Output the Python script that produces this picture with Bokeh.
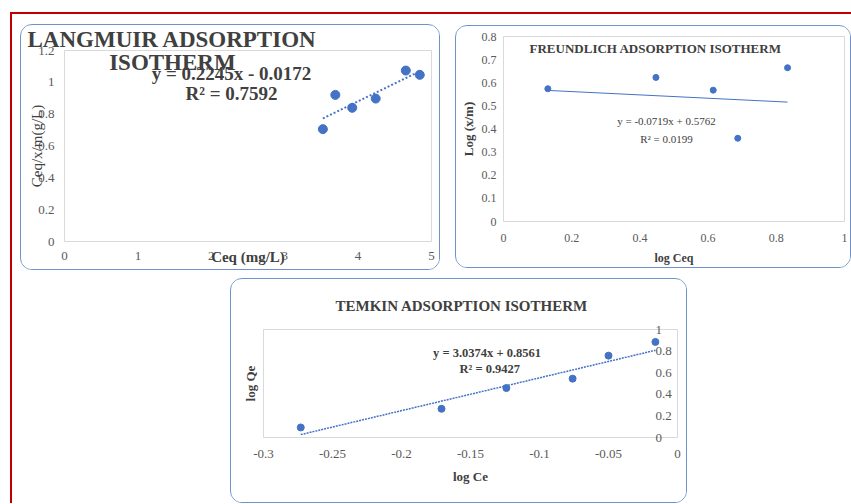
from bokeh.plotting import figure
from bokeh.models import Label, LinearAxis, FixedTicker, CustomJSTickFormatter
from bokeh.layouts import column, row
from bokeh.embed import file_html
from bokeh.resources import INLINE

# ---------------- data ----------------
lang_x = [3.52, 3.69, 3.92, 4.24, 4.65, 4.84]
lang_y = [0.706, 0.921, 0.840, 0.898, 1.074, 1.047]
lang_fit = (0.2245, -0.0172)
lang_xticks = [0, 1, 2, 3, 4, 5]
lang_yticks = [0, 0.2, 0.4, 0.6, 0.8, 1.0, 1.2]

fr_x = [0.130, 0.447, 0.615, 0.687, 0.833]
fr_y = [0.574, 0.623, 0.568, 0.360, 0.665]
fr_fit = (-0.0719, 0.5762)
fr_xticks = [0, 0.2, 0.4, 0.6, 0.8, 1.0]
fr_yticks = [0, 0.1, 0.2, 0.3, 0.4, 0.5, 0.6, 0.7, 0.8]

tk_x = [-0.273, -0.171, -0.124, -0.076, -0.050, -0.016]
tk_y = [0.093, 0.266, 0.458, 0.545, 0.758, 0.885]
tk_fit = (3.0374, 0.8561)
tk_xticks = [-0.3, -0.25, -0.2, -0.15, -0.1, -0.05, 0]
tk_yticks = [0, 0.2, 0.4, 0.6, 0.8, 1.0]

FONT = "Liberation Serif"
BLUE = "#4472C4"
TICKC = "#595959"
TXT = "#404040"
FMT = "return String(parseFloat(tick.toFixed(4)));"
PANEL = {"border": "1.5px solid #6f93c8", "border-radius": "12px", "overflow": "hidden"}


def base_fig(w, h, xr, yr, ml, mr, mt, mb, **kw):
    p = figure(width=w, height=h, x_range=xr, y_range=yr, output_backend="svg",
               toolbar_location=None, min_border_left=ml, min_border_right=mr,
               min_border_top=mt, min_border_bottom=mb, **kw)
    p.outline_line_color = "#d9d9d9"
    p.xgrid.visible = False
    p.ygrid.visible = False
    p.styles = dict(PANEL)
    return p


def style_axis(ax, ticks, size, standoff, label, lsize, lstandoff, bold=True):
    ax.ticker = FixedTicker(ticks=ticks)
    ax.formatter = CustomJSTickFormatter(code=FMT)
    ax.major_tick_in = 0
    ax.major_tick_out = 0
    ax.minor_tick_in = 0
    ax.minor_tick_out = 0
    ax.major_tick_line_color = None
    ax.minor_tick_line_color = None
    ax.axis_line_color = None
    ax.major_label_text_font = FONT
    ax.major_label_text_font_size = f"{size}px"
    ax.major_label_text_color = TICKC
    ax.major_label_standoff = standoff
    ax.axis_label = label
    ax.axis_label_text_font = FONT
    ax.axis_label_text_font_size = f"{lsize}px"
    ax.axis_label_text_font_style = "bold" if bold else "normal"
    ax.axis_label_text_color = TXT
    ax.axis_label_standoff = lstandoff


def label(p, x, y, text, size, bold=True, color=TXT):
    p.add_layout(Label(x=x, y=y, text=text, text_font=FONT,
                       text_font_size=f"{size}px",
                       text_font_style="bold" if bold else "normal", text_color=color,
                       text_align="center", text_baseline="middle"))


def style_title(t, text, size, align, offset, standoff):
    t.text = text
    t.text_font = FONT
    t.text_font_size = f"{size}px"
    t.text_font_style = "bold"
    t.text_color = TXT
    t.align = align
    t.offset = offset
    t.standoff = standoff


def trend(p, xs, fit, dash, width):
    x0, x1 = min(xs), max(xs)
    p.line([x0, x1], [fit[0] * x0 + fit[1], fit[0] * x1 + fit[1]],
           line_color=BLUE, line_width=width, line_dash=dash)


# ---------------- Langmuir ----------------
p1 = base_fig(420, 246, (0, 5), (0, 1.2), 43, 10, 25, 30)
style_axis(p1.xaxis[0], lang_xticks, 13, 10, "Ceq (mg/L)", 15, -14)
style_axis(p1.yaxis[0], lang_yticks, 13, 10, "Ceq/x/m(g/L)", 15, -10, bold=False)
style_title(p1.title, "LANGMUIR ADSORPTION", 23, "left", -37, -3)
trend(p1, lang_x, lang_fit, "2 2", 2)
p1.scatter(lang_x, lang_y, size=9, fill_color=BLUE, line_color=BLUE)
label(p1, 1.47, 1.124, "ISOTHERM", 23)
label(p1, 2.275, 1.055, "y = 0.2245x - 0.0172", 19)
label(p1, 2.275, 0.929, "R² = 0.7592", 19)
p1.margin = (10, 0, 0, 8)

# ---------------- Freundlich ----------------
p2 = base_fig(396, 243, (0, 1), (0, 0.8), 47, 8, 10, 48, title_location=None)
style_axis(p2.xaxis[0], fr_xticks, 12, 12, "log Ceq", 12, 6)
style_axis(p2.yaxis[0], fr_yticks, 12, 7, "Log (x/m)", 13, 3)
trend(p2, fr_x, fr_fit, "solid", 1)
p2.scatter(fr_x, fr_y, size=6, fill_color=BLUE, line_color=BLUE)
label(p2, 0.446, 0.749, "FREUNDLICH ADSORPTION ISOTHERM", 13)
label(p2, 0.478, 0.435, "y = -0.0719x + 0.5762", 11, bold=False)
label(p2, 0.478, 0.355, "R² = 0.0199", 11, bold=False)
p2.margin = (11, 0, 0, 15)

# ---------------- Temkin ----------------
p3 = base_fig(457, 225, (-0.3, 0), (0, 1), 32, 11, 50, 67)
style_axis(p3.xaxis[0], tk_xticks, 13, 12, "log Ce", 13, 8)
style_axis(p3.yaxis[0], [], 13, 5, "log Qe", 13, 6)
style_title(p3.title, "TEMKIN ADSORPTION ISOTHERM", 15, "left", 72, 32)
ry = LinearAxis()
style_axis(ry, tk_yticks, 13, -22, "", 13, 0)
ry.axis_line_color = "#d9d9d9"
p3.add_layout(ry, "right")
trend(p3, tk_x, tk_fit, "2 1", 1.5)
p3.scatter(tk_x, tk_y, size=7, fill_color=BLUE, line_color=BLUE)
label(p3, -0.138, 0.787, "y = 3.0374x + 0.8561", 12.5)
label(p3, -0.136, 0.630, "R² = 0.9427", 12.5)
p3.margin = (8, 0, 0, 218)

root = column(row(column(p1), column(p2)), row(column(p3)),
              styles={"border-top": "2px solid #c00000", "border-left": "2px solid #c00000"},
              margin=(12, 0, 0, 10))

open("out.html", "w").write(file_html(root, INLINE))
